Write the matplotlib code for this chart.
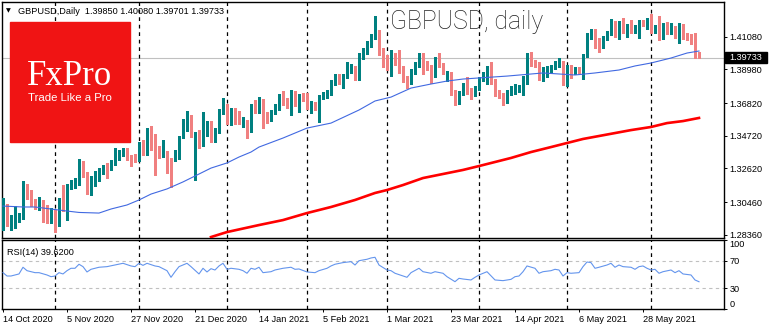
import matplotlib
matplotlib.use("Agg")
import matplotlib.pyplot as plt
from matplotlib.patches import Rectangle
import numpy as np

plt.rcParams["font.family"] = ["Liberation Sans", "DejaVu Sans"]

# GBPUSD daily candles, one per trading day starting 14 Oct 2020
opens = [1.2879, 1.3020, 1.2911, 1.2892, 1.2937, 1.2950, 1.3149, 1.3085, 1.3053, 1.3014,
         1.3046, 1.2988, 1.2924, 1.2975, 1.2918, 1.3142, 1.2988, 1.3149, 1.3155, 1.3168,
         1.3277, 1.3226, 1.3104, 1.3162, 1.3194, 1.3239, 1.3284, 1.3264, 1.3297, 1.3329,
         1.3354, 1.3380, 1.3335, 1.3329, 1.3322, 1.3419, 1.3361, 1.3425, 1.3412, 1.3386,
         1.3348, 1.3348, 1.3297, 1.3322, 1.3335, 1.3470, 1.3515, 1.3586, 1.3412, 1.3489,
         1.3425, 1.3483, 1.3547, 1.3444, 1.3502, 1.3624, 1.3650, 1.3560, 1.3624, 1.3611,
         1.3553, 1.3553, 1.3508, 1.3663, 1.3630, 1.3695, 1.3592, 1.3579, 1.3624, 1.3650,
         1.3740, 1.3682, 1.3669, 1.3740, 1.3675, 1.3720, 1.3708, 1.3656, 1.3669, 1.3650,
         1.3720, 1.3720, 1.3746, 1.3810, 1.3836, 1.3817, 1.3855, 1.3894, 1.3907, 1.3843,
         1.3978, 1.4010, 1.4055, 1.4106, 1.4138, 1.4010, 1.3939, 1.3920, 1.3952, 1.3945,
         1.3894, 1.3836, 1.3817, 1.3881, 1.3926, 1.3990, 1.3920, 1.3907, 1.3913, 1.3965,
         1.3926, 1.3836, 1.3862, 1.3753, 1.3688, 1.3746, 1.3791, 1.3765, 1.3740, 1.3778,
         1.3836, 1.3817, 1.3920, 1.3823, 1.3753, 1.3733, 1.3695, 1.3746, 1.3753, 1.3765,
         1.3778, 1.3817, 1.3990, 1.3945, 1.3933, 1.3836, 1.3862, 1.3894, 1.3913, 1.3926,
         1.3939, 1.3804, 1.3913, 1.3881, 1.3900, 1.3849, 1.3990, 1.4106, 1.4145, 1.4055,
         1.4048, 1.4100, 1.4132, 1.4196, 1.4106, 1.4190, 1.4157, 1.4157, 1.4145, 1.4113,
         1.4202, 1.4170, 1.4209, 1.4145, 1.4228, 1.4106, 1.4190, 1.4138, 1.4164, 1.4080,
         1.4177, 1.4119, 1.4113, 1.4080, 1.3985]
highs = [1.3072, 1.3033, 1.2963, 1.3020, 1.2975, 1.3181, 1.3162, 1.3123, 1.3065, 1.3078,
         1.3059, 1.3027, 1.3008, 1.2995, 1.3072, 1.3155, 1.3162, 1.3187, 1.3200, 1.3322,
         1.3309, 1.3239, 1.3213, 1.3245, 1.3264, 1.3284, 1.3297, 1.3316, 1.3393, 1.3380,
         1.3393, 1.3393, 1.3348, 1.3354, 1.3431, 1.3444, 1.3521, 1.3534, 1.3483, 1.3406,
         1.3444, 1.3374, 1.3329, 1.3380, 1.3470, 1.3579, 1.3630, 1.3605, 1.3496, 1.3508,
         1.3624, 1.3566, 1.3566, 1.3521, 1.3643, 1.3714, 1.3675, 1.3650, 1.3650, 1.3630,
         1.3592, 1.3573, 1.3675, 1.3701, 1.3720, 1.3708, 1.3624, 1.3637, 1.3675, 1.3740,
         1.3759, 1.3714, 1.3765, 1.3759, 1.3740, 1.3746, 1.3746, 1.3695, 1.3688, 1.3733,
         1.3753, 1.3765, 1.3830, 1.3868, 1.3868, 1.3868, 1.3945, 1.3933, 1.3920, 1.4003,
         1.4035, 1.4080, 1.4125, 1.4241, 1.4151, 1.4035, 1.3990, 1.4023, 1.4003, 1.4023,
         1.3920, 1.3855, 1.3900, 1.3945, 1.4003, 1.4003, 1.3952, 1.3926, 1.3978, 1.4003,
         1.3939, 1.3888, 1.3881, 1.3765, 1.3759, 1.3810, 1.3849, 1.3778, 1.3791, 1.3849,
         1.3881, 1.3920, 1.3945, 1.3836, 1.3765, 1.3746, 1.3765, 1.3791, 1.3804, 1.3798,
         1.3855, 1.4003, 1.4010, 1.3958, 1.3945, 1.3913, 1.3920, 1.3926, 1.3952, 1.3971,
         1.3952, 1.3926, 1.3926, 1.3913, 1.3913, 1.3997, 1.4132, 1.4157, 1.4157, 1.4100,
         1.4113, 1.4145, 1.4222, 1.4209, 1.4209, 1.4228, 1.4190, 1.4215, 1.4183, 1.4215,
         1.4215, 1.4228, 1.4254, 1.4183, 1.4241, 1.4196, 1.4202, 1.4196, 1.4177, 1.4196,
         1.4190, 1.4132, 1.4125, 1.4132, 1.4008]
lows = [1.2866, 1.2892, 1.2866, 1.2879, 1.2918, 1.2937, 1.3065, 1.3020, 1.3001, 1.2995,
        1.2918, 1.2911, 1.2911, 1.2853, 1.2892, 1.2988, 1.2930, 1.3130, 1.3136, 1.3155,
        1.3207, 1.3097, 1.3091, 1.3149, 1.3181, 1.3226, 1.3200, 1.3252, 1.3284, 1.3316,
        1.3342, 1.3316, 1.3277, 1.3303, 1.3309, 1.3348, 1.3348, 1.3380, 1.3220, 1.3329,
        1.3335, 1.3232, 1.3142, 1.3309, 1.3322, 1.3457, 1.3502, 1.3463, 1.3187, 1.3393,
        1.3406, 1.3470, 1.3431, 1.3431, 1.3489, 1.3611, 1.3547, 1.3541, 1.3547, 1.3547,
        1.3528, 1.3457, 1.3496, 1.3618, 1.3618, 1.3521, 1.3553, 1.3566, 1.3611, 1.3637,
        1.3669, 1.3650, 1.3605, 1.3663, 1.3624, 1.3695, 1.3643, 1.3618, 1.3637, 1.3560,
        1.3708, 1.3714, 1.3733, 1.3798, 1.3804, 1.3778, 1.3843, 1.3875, 1.3830, 1.3830,
        1.3965, 1.3997, 1.4042, 1.4093, 1.3990, 1.3913, 1.3894, 1.3855, 1.3926, 1.3875,
        1.3817, 1.3778, 1.3804, 1.3868, 1.3913, 1.3868, 1.3894, 1.3810, 1.3849, 1.3913,
        1.3868, 1.3823, 1.3733, 1.3669, 1.3675, 1.3733, 1.3740, 1.3708, 1.3727, 1.3765,
        1.3823, 1.3804, 1.3804, 1.3727, 1.3714, 1.3669, 1.3682, 1.3733, 1.3740, 1.3753,
        1.3733, 1.3804, 1.3920, 1.3913, 1.3830, 1.3823, 1.3849, 1.3881, 1.3900, 1.3913,
        1.3798, 1.3791, 1.3843, 1.3868, 1.3868, 1.3836, 1.3978, 1.4093, 1.4035, 1.4010,
        1.4035, 1.4087, 1.4119, 1.4106, 1.4093, 1.4132, 1.4106, 1.4132, 1.4132, 1.4100,
        1.4177, 1.4157, 1.4132, 1.4132, 1.4087, 1.4093, 1.4125, 1.4125, 1.4100, 1.4067,
        1.4093, 1.4087, 1.4061, 1.3971, 1.3970]
closes = [1.3053, 1.2905, 1.2924, 1.2943, 1.2950, 1.3149, 1.3078, 1.3040, 1.3014, 1.3046,
          1.2982, 1.2924, 1.2950, 1.2930, 1.3059, 1.3001, 1.3149, 1.3168, 1.3168, 1.3277,
          1.3220, 1.3110, 1.3200, 1.3194, 1.3252, 1.3271, 1.3264, 1.3303, 1.3329, 1.3367,
          1.3374, 1.3329, 1.3303, 1.3322, 1.3419, 1.3361, 1.3444, 1.3412, 1.3374, 1.3348,
          1.3393, 1.3297, 1.3232, 1.3354, 1.3457, 1.3521, 1.3586, 1.3528, 1.3463, 1.3412,
          1.3541, 1.3541, 1.3444, 1.3502, 1.3630, 1.3663, 1.3560, 1.3624, 1.3611, 1.3560,
          1.3573, 1.3508, 1.3663, 1.3630, 1.3695, 1.3579, 1.3586, 1.3624, 1.3650, 1.3727,
          1.3682, 1.3669, 1.3746, 1.3675, 1.3720, 1.3708, 1.3656, 1.3675, 1.3650, 1.3720,
          1.3733, 1.3746, 1.3817, 1.3836, 1.3817, 1.3855, 1.3907, 1.3913, 1.3843, 1.3990,
          1.4016, 1.4061, 1.4113, 1.4138, 1.4003, 1.3939, 1.3920, 1.3952, 1.3945, 1.3888,
          1.3843, 1.3810, 1.3888, 1.3933, 1.3990, 1.3913, 1.3907, 1.3855, 1.3965, 1.3926,
          1.3881, 1.3862, 1.3746, 1.3688, 1.3746, 1.3798, 1.3753, 1.3733, 1.3778, 1.3836,
          1.3855, 1.3907, 1.3817, 1.3740, 1.3727, 1.3701, 1.3753, 1.3778, 1.3791, 1.3785,
          1.3843, 1.3990, 1.3933, 1.3926, 1.3843, 1.3900, 1.3907, 1.3913, 1.3939, 1.3945,
          1.3810, 1.3913, 1.3881, 1.3900, 1.3881, 1.3984, 1.4119, 1.4145, 1.4048, 1.4048,
          1.4100, 1.4132, 1.4196, 1.4119, 1.4196, 1.4145, 1.4164, 1.4145, 1.4170, 1.4202,
          1.4190, 1.4215, 1.4145, 1.4170, 1.4100, 1.4183, 1.4138, 1.4183, 1.4113, 1.4183,
          1.4106, 1.4100, 1.4074, 1.3984, 1.3973]

# moving averages (bar index, value)
ma_fast_bars = [0, 5, 8, 12, 16, 19, 24, 27, 31, 34, 37, 41, 45, 48, 52, 56, 59, 62, 64, 70,
                76, 82, 89, 93, 97, 102, 107, 111, 115, 119, 126, 135, 143, 148, 154, 158,
                162, 167, 171, 174]
ma_fast = [1.3020, 1.3014, 1.3014, 1.3001, 1.2988, 1.2979, 1.2975, 1.3001, 1.3027, 1.3059,
           1.3097, 1.3130, 1.3175, 1.3213, 1.3264, 1.3297, 1.3335, 1.3367, 1.3399, 1.3457,
           1.3521, 1.3553, 1.3637, 1.3695, 1.3720, 1.3778, 1.3804, 1.3823, 1.3836, 1.3843,
           1.3855, 1.3875, 1.3862, 1.3875, 1.3894, 1.3920, 1.3939, 1.3971, 1.4003, 1.4016]
ma_slow_bars = [52, 56, 64, 70, 76, 82, 88, 93, 96, 100, 105, 110, 115, 119, 123, 127, 132,
                137, 141, 145, 149, 153, 157, 162, 166, 170, 174]
ma_slow = [1.2821, 1.2853, 1.2898, 1.2930, 1.2975, 1.3014, 1.3059, 1.3104, 1.3123, 1.3155,
           1.3200, 1.3226, 1.3252, 1.3277, 1.3303, 1.3329, 1.3367, 1.3399, 1.3425, 1.3451,
           1.3470, 1.3489, 1.3508, 1.3528, 1.3553, 1.3566, 1.3586]

# RSI(14)
rsi_bars = [0, 1, 2, 4, 5, 6, 8, 9, 11, 12, 13, 14, 15, 16, 17, 18, 19, 20, 21, 22, 24, 26,
            28, 30, 32, 33, 34, 35, 36, 38, 39, 41, 42, 43, 44, 46, 47, 49, 50, 51, 52, 53,
            54, 55, 56, 57, 59, 60, 61, 62, 63, 64, 65, 67, 68, 70, 72, 73, 74, 76, 78, 79,
            81, 82, 83, 85, 87, 88, 89, 91, 92, 93, 94, 96, 97, 98, 100, 101, 102, 104, 105,
            107, 108, 110, 111, 113, 114, 115, 117, 118, 119, 121, 123, 125, 127, 128, 129,
            130, 131, 133, 134, 135, 137, 138, 139, 140, 141, 142, 144, 145, 146, 147, 148,
            149, 151, 152, 153, 154, 155, 157, 158, 159, 160, 161, 162, 163, 164, 165, 167,
            168, 169, 170, 172, 173, 174]
rsi = [52.9, 48, 48, 51, 60.8, 55.8, 52.9, 52.9, 49.5, 47, 48, 52.9, 51, 55.8, 59.3, 59.3,
       65.2, 61.7, 53.9, 57.8, 60.8, 61.7, 64.1, 66.6, 62.7, 61.7, 66.6, 63.6, 66.6, 62.7,
       61.7, 55.8, 46.1, 54.3, 61.7, 66.6, 61.7, 51, 59.3, 53.9, 58.7, 56.8, 62.7, 66.6, 57.8,
       59.3, 57.8, 55.8, 52, 59.3, 57.8, 60.8, 52.9, 54.3, 56.8, 59.3, 60.8, 57.8, 58.3, 53.9,
       52.9, 55.8, 59.3, 62.7, 65.2, 67.6, 69, 64.1, 70.4, 72.5, 74.4, 75.4, 64.1, 56.8, 55.8,
       52, 48, 46.1, 52.9, 59.3, 54.3, 52, 54.3, 52, 47, 39.7, 44.6, 43.6, 42.2, 46.1, 49.5,
       54.3, 42.2, 41.2, 43.1, 47, 48, 54.3, 62.7, 59.3, 52, 54.3, 55.8, 57.8, 56.8, 48, 52.9,
       52, 52.9, 61.7, 68.5, 67.6, 59.3, 60.8, 64.1, 66.6, 60.8, 64.1, 61.7, 60.8, 57.8, 61.7,
       62.7, 59.3, 56.8, 57.8, 52, 54.3, 56.8, 52.9, 55.8, 51, 49.5, 42.2, 39.62]

price_ticks = [1.28360, 1.30460, 1.32620, 1.34720, 1.36820, 1.38980, 1.41080]
date_bars = [0, 16, 32, 48, 64, 80, 96, 112, 128, 144, 160]
date_labels = ["14 Oct 2020", "5 Nov 2020", "27 Nov 2020", "21 Dec 2020", "14 Jan 2021",
               "5 Feb 2021", "1 Mar 2021", "23 Mar 2021", "14 Apr 2021", "6 May 2021",
               "28 May 2021"]
month_starts = [13, 34, 56, 76, 96, 119, 141, 162]
last_price = 1.39733

BULL = "#008080"
BEAR = "#F08080"
W, H = 770, 330

fig = plt.figure(figsize=(W / 100, H / 100), dpi=100)
fig.patch.set_facecolor("white")
ax = fig.add_axes([2 / W, 1 - 238 / H, 722 / W, 236 / H])
ax2 = fig.add_axes([2 / W, 1 - 309 / H, 722 / W, 69 / H])

o = np.array(opens); h = np.array(highs); l = np.array(lows); c = np.array(closes)
x = np.arange(len(o))
up = c >= o
cols = np.where(up, BULL, BEAR)

ax.vlines(x, l, h, colors=cols, lw=0.75, antialiased=False, zorder=3)
body_lo = np.minimum(o, c)
body_h = np.maximum(np.abs(c - o), 0.00025)
ax.bar(x, body_h, bottom=body_lo, width=0.7, color=cols, lw=0,
       antialiased=False, zorder=4)

ax.plot(ma_fast_bars, ma_fast, color="#4169E1", lw=0.8, zorder=5)
ax.plot(ma_slow_bars, ma_slow, color="#FF0000", lw=1.9, zorder=5)
ax.axhline(last_price, color="#C0C0C0", lw=0.8, zorder=1)

for a in (ax, ax2):
    for b in month_starts:
        a.axvline(b, color="black", lw=0.9, ls=(0, (3, 3)), zorder=2)
    for s in a.spines.values():
        s.set_color("black")
        s.set_linewidth(1.0)
    a.set_xlim(-0.25, 180.25)
    a.yaxis.tick_right()
    a.tick_params(axis="y", length=2.5, width=0.7, pad=1.5, labelsize=6.6)

ax.set_ylim(1.28148, 1.43309)
ax.set_yticks(price_ticks)
ax.set_yticklabels(["%.5f" % p for p in price_ticks])
ax.set_xticks([])

# RSI panel
ax2.plot(rsi_bars, rsi, color="#6495ED", lw=0.8, zorder=3)
for lvl in (30, 70):
    ax2.axhline(lvl, color="#C0C0C0", lw=0.8, ls=(0, (3, 3)), zorder=1)
ax2.set_ylim(-0.3, 100.7)
ax2.set_yticks([0, 30, 70, 100])
ax2.set_yticklabels(["0", "30", "70", "100"])
ax2.get_yticklabels()[0].set_va("bottom")
ax2.get_yticklabels()[3].set_va("top")
ax2.set_xticks(date_bars)
ax2.set_xticklabels(date_labels, ha="left")
ax2.tick_params(axis="x", length=2.5, width=0.7, pad=2, labelsize=6.6)
ax2.text(0.007, 0.88, "RSI(14) 39.6200", transform=ax2.transAxes, fontsize=6.6,
         va="top", ha="left", zorder=6)

# header texts
fig.text(6 / W, 1 - 10.5 / H, "▼", fontsize=4.5, family="DejaVu Sans", va="center")
fig.text(18 / W, 1 - 14 / H, "GBPUSD,Daily  1.39850 1.40080 1.39701 1.39733",
         fontsize=6.6, va="baseline")
fig.text(390 / W, 1 - 29.5 / H, "GBPUSD, daily", fontsize=17.8, family="Roboto",
         fontweight="light", color="#222222", va="baseline")

# FxPro badge
fig.add_artist(Rectangle((10 / W, 1 - 142 / H), 120 / W, 120 / H,
                         transform=fig.transFigure, color="#F01414", zorder=10))
fig.text(27 / W, 1 - 85 / H, "FxPro", fontsize=25, family="Liberation Serif",
         color="white", va="baseline", zorder=11)
fig.text(28 / W, 1 - 101 / H, "Trade Like a Pro", fontsize=8.2, color="white",
         va="baseline", zorder=11)

# current price marker
fig.add_artist(Rectangle((725 / W, 1 - 63 / H), 42 / W, 10.5 / H,
                         transform=fig.transFigure, color="black", zorder=10))
fig.text(729 / W, 1 - 57.8 / H, "%.5f" % last_price, fontsize=6.6, color="white",
         va="center", zorder=11)

fig.savefig("out.png", dpi=100)
